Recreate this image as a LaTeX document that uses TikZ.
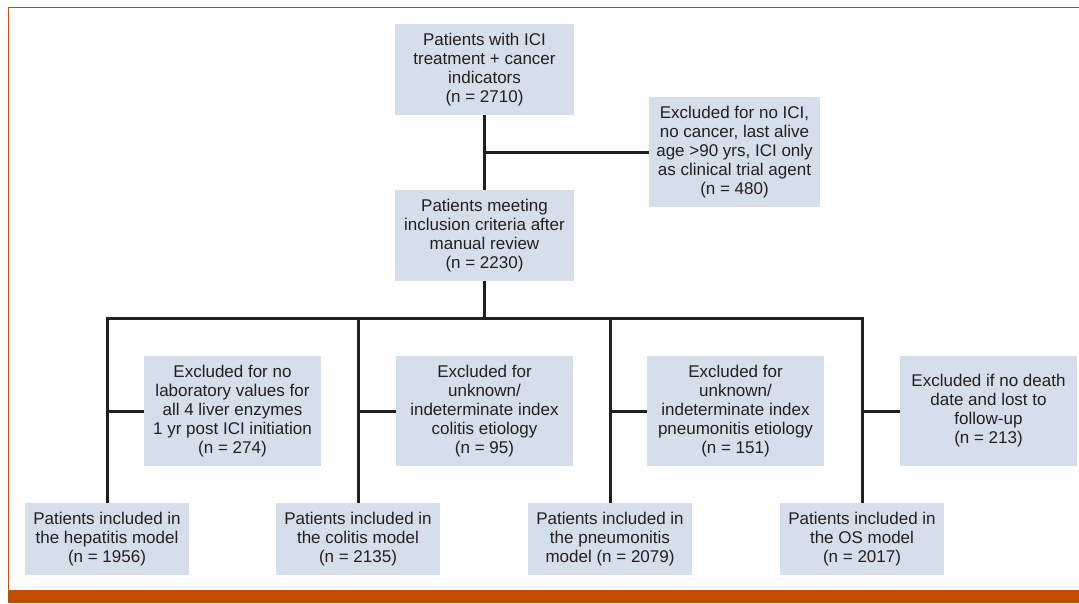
\documentclass[tikz,border=0pt]{standalone}
\usepackage{fontspec}
\setmainfont{Liberation Sans}
\definecolor{boxfill}{HTML}{D5DFEC}
\definecolor{accent}{HTML}{BF4E00}
\definecolor{ink}{HTML}{231F20}
\tikzset{
  box/.style={fill=boxfill, align=center, inner sep=0pt, text=ink,
    font=\fontsize{17}{19}\selectfont},
  conn/.style={line width=3pt, ink, line join=miter}
}
\begin{document}
\begin{tikzpicture}[x=1pt,y=-1pt]
\useasboundingbox (0,0) rectangle (1079,603);
% frame
\fill[accent] (8,590) rectangle (1079,603);
\draw[accent, line width=1.6pt] (8.5,590) -- (8.5,7.5) -- (1079,7.5);
% top
\node[box, minimum width=179pt, minimum height=91pt] (top) at (484.5,69.5)
  {Patients with ICI\\treatment + cancer\\indicators\\(n = 2710)};
\node[box, minimum width=171pt, minimum height=110pt] (ex1) at (734.5,152)
  {Excluded for no ICI,\\no cancer, last alive\\age >90 yrs, ICI only\\as clinical trial agent\\(n = 480)};
\node[box, minimum width=179pt, minimum height=91pt] (mid) at (484.5,235.5)
  {Patients meeting\\inclusion criteria after\\manual review\\(n = 2230)};
% exclusion row
\node[box, minimum width=177pt, minimum height=110pt] (exhep) at (232.5,411)
  {Excluded for no\\laboratory values for\\all 4 liver enzymes\\1 yr post ICI initiation\\(n = 274)};
\node[box, minimum width=177pt, minimum height=110pt] (excol) at (484.5,411)
  {Excluded for\\unknown/\\indeterminate index\\colitis etiology\\(n = 95)};
\node[box, minimum width=177pt, minimum height=110pt] (expne) at (735.5,411)
  {Excluded for\\unknown/\\indeterminate index\\pneumonitis etiology\\(n = 151)};
\node[box, minimum width=177pt, minimum height=110pt] (exos) at (988.5,411)
  {Excluded if no death\\date and lost to\\follow-up\\(n = 213)};
% bottom row
\node[box, minimum width=164pt, minimum height=72pt] (hep) at (107,539)
  {Patients included in\\the hepatitis model\\(n = 1956)};
\node[box, minimum width=164pt, minimum height=72pt] (col) at (358,539)
  {Patients included in\\the colitis model\\(n = 2135)};
\node[box, minimum width=164pt, minimum height=72pt] (pne) at (610,539)
  {Patients included in\\the pneumonitis\\model (n = 2079)};
\node[box, minimum width=164pt, minimum height=72pt] (os) at (862,539)
  {Patients included in\\the OS model\\(n = 2017)};
\coordinate (br) at (484.5,318);
% connectors
\draw[conn] (top.south) -- (mid.north);
\draw[conn] (top.south |- ex1.west) -- (ex1.west);
\draw[conn] (mid.south) -- (br);
\draw[conn] (hep.north) -- (hep.north |- br) -- (os.north |- br) -- (os.north);
\draw[conn] (col.north |- br) -- (col.north);
\draw[conn] (pne.north |- br) -- (pne.north);
\draw[conn] (hep.north |- exhep.west) -- (exhep.west);
\draw[conn] (col.north |- excol.west) -- (excol.west);
\draw[conn] (pne.north |- expne.west) -- (expne.west);
\draw[conn] (os.north |- exos.west) -- (exos.west);
\end{tikzpicture}
\end{document}
